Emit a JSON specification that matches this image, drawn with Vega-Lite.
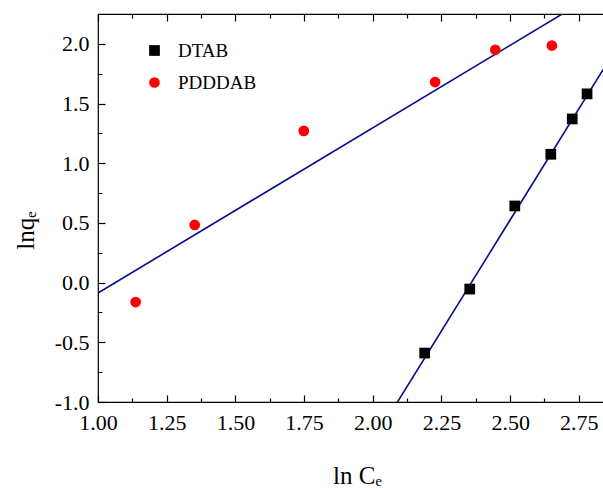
{
  "$schema": "https://vega.github.io/schema/vega-lite/v6.json",
  "width": 507,
  "height": 388,
  "autosize": {"type": "none"},
  "padding": {"left": 98, "top": 14, "right": -2, "bottom": 86},
  "background": "white",
  "config": {
    "view": {"stroke": "black", "strokeWidth": 1.2},
    "font": "Liberation Serif",
    "axis": {
      "domain": false,
      "ticks": true,
      "tickColor": "black",
      "tickWidth": 1.2,
      "tickSize": 7,
      "offset": -7,
      "labelColor": "black",
      "labelFont": "Liberation Serif",
      "labelFontSize": 22,
      "titleFont": "Liberation Serif",
      "titleFontSize": 25,
      "titleFontWeight": "normal",
      "titleColor": "black",
      "grid": false,
      "zindex": 1
    },
    "legend": {
      "labelFont": "Liberation Serif",
      "labelFontSize": 19,
      "labelColor": "black"
    }
  },
  "resolve": {"axis": {"x": "independent", "y": "independent"}},
  "layer": [
    {
      "data": {
        "values": [
          {"fit": "PDDDAB", "lnCe": 0.95, "lnqe": -0.156},
          {"fit": "PDDDAB", "lnCe": 2.9, "lnqe": 2.541},
          {"fit": "DTAB", "lnCe": 2.05, "lnqe": -1.149},
          {"fit": "DTAB", "lnCe": 2.9, "lnqe": 2.013}
        ]
      },
      "mark": {"type": "line", "color": "#0a0a8c", "strokeWidth": 1.6, "clip": true},
      "encoding": {
        "x": {
          "field": "lnCe",
          "type": "quantitative",
          "scale": {"domain": [1, 2.8453], "nice": false, "zero": false},
          "axis": {
            "orient": "top",
            "title": null,
            "labels": false,
            "values": [1.0, 1.125, 1.25, 1.375, 1.5, 1.625, 1.75, 1.875, 2.0, 2.125, 2.25, 2.375, 2.5, 2.625, 2.75],
            "tickDash": {"condition": {"test": "abs(datum.value*4 - round(datum.value*4)) < 0.001", "value": [20, 1]}, "value": [0, 3, 4, 100]}
          }
        },
        "y": {
          "field": "lnqe",
          "type": "quantitative",
          "scale": {"domain": [-1, 2.25], "nice": false, "zero": false},
          "axis": null
        },
        "detail": {"field": "fit"}
      }
    },
    {
      "data": {
        "values": [
          {"series": "DTAB", "lnCe": 2.189, "lnqe": -0.59},
          {"series": "DTAB", "lnCe": 2.353, "lnqe": -0.054},
          {"series": "DTAB", "lnCe": 2.517, "lnqe": 0.642},
          {"series": "DTAB", "lnCe": 2.648, "lnqe": 1.075},
          {"series": "DTAB", "lnCe": 2.726, "lnqe": 1.371},
          {"series": "DTAB", "lnCe": 2.78, "lnqe": 1.581},
          {"series": "PDDDAB", "lnCe": 1.137, "lnqe": -0.163},
          {"series": "PDDDAB", "lnCe": 1.352, "lnqe": 0.483},
          {"series": "PDDDAB", "lnCe": 1.749, "lnqe": 1.271},
          {"series": "PDDDAB", "lnCe": 2.227, "lnqe": 1.68},
          {"series": "PDDDAB", "lnCe": 2.446, "lnqe": 1.95},
          {"series": "PDDDAB", "lnCe": 2.652, "lnqe": 1.986}
        ]
      },
      "mark": {"type": "point", "filled": true, "opacity": 1, "size": 115},
      "encoding": {
        "x": {
          "field": "lnCe",
          "type": "quantitative",
          "scale": {"domain": [1, 2.8453], "nice": false, "zero": false},
          "axis": {
            "orient": "bottom",
            "title": "ln Cₑ",
            "format": ".2f",
            "values": [1.0, 1.125, 1.25, 1.375, 1.5, 1.625, 1.75, 1.875, 2.0, 2.125, 2.25, 2.375, 2.5, 2.625, 2.75],
            "labelExpr": "abs(datum.value*4 - round(datum.value*4)) < 0.001 ? datum.label : ''",
            "tickDash": {"condition": {"test": "abs(datum.value*4 - round(datum.value*4)) < 0.001", "value": [20, 1]}, "value": [0, 3, 4, 100]},
            "labelPadding": 10,
            "labelFlush": false,
            "labelOverlap": false,
            "titleX": 259,
            "titleY": 88,
            "titleBaseline": "alphabetic",
            "titleAnchor": null
          }
        },
        "y": {
          "field": "lnqe",
          "type": "quantitative",
          "scale": {"domain": [-1, 2.25], "nice": false, "zero": false},
          "axis": {
            "orient": "left",
            "title": "lnqₑ",
            "format": ".1f",
            "values": [-1.0, -0.75, -0.5, -0.25, 0.0, 0.25, 0.5, 0.75, 1.0, 1.25, 1.5, 1.75, 2.0],
            "labelExpr": "abs(datum.value*2 - round(datum.value*2)) < 0.001 ? replace(datum.label, '−', '-') : ''",
            "tickDash": {"condition": {"test": "abs(datum.value*2 - round(datum.value*2)) < 0.001", "value": [20, 1]}, "value": [0, 3, 4, 100]},
            "labelPadding": 9,
            "labelFlush": false,
            "labelOverlap": false,
            "titleX": -72,
            "titleY": 216,
            "titleBaseline": "alphabetic",
            "titleAnchor": null
          }
        },
        "color": {
          "field": "series",
          "type": "nominal",
          "scale": {"domain": ["DTAB", "PDDDAB"], "range": ["black", "#ff0000"]},
          "legend": {
            "title": null,
            "orient": "none",
            "legendX": 47,
            "legendY": 27,
            "padding": 0,
            "rowPadding": 12,
            "labelOffset": 14,
            "symbolSize": 115,
            "symbolStrokeWidth": 0
          }
        },
        "shape": {
          "field": "series",
          "type": "nominal",
          "scale": {"domain": ["DTAB", "PDDDAB"], "range": ["square", "circle"]}
        }
      }
    }
  ]
}
